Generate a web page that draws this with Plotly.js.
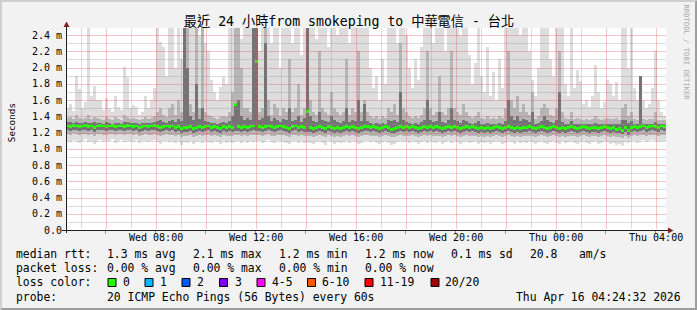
<!DOCTYPE html>
<html><head><meta charset="utf-8">
<script src="https://cdn.plot.ly/plotly-3.0.1.min.js"></script>
<style>html,body{margin:0;padding:0;background:#F2F2F2;overflow:hidden}#chart{width:697px;height:310px}</style>
</head><body><div id="chart"></div>
<script>
// ---- data (values in units of 0.01 ms), one value per 7.2-minute column, 24 h ----
const startTime = Date.UTC(2026, 3, 15, 4, 24, 32);   // Wed 04:24:32
const columnMs = 432000;                              // 7.2 min
const medianRtt = [
128,127,129,128,127,128,129,127,128,126,128,129,128,127,128,129,127,128,128,127,
129,128,127,128,126,127,128,127,128,129,127,126,127,128,127,128,126,127,125,126,
126,127,125,126,127,126,127,128,126,127,126,125,127,126,127,126,155,127,126,127,
126,127,128,207,127,126,127,128,127,126,127,128,127,126,125,127,128,126,127,126,
146,126,125,126,127,126,125,127,126,125,126,125,126,127,126,127,126,125,126,127,
127,126,127,126,125,126,127,126,124,125,126,127,126,127,126,127,126,125,126,127,
126,127,126,127,126,125,126,127,126,127,126,125,126,127,126,127,126,125,126,125,
126,125,126,127,126,125,126,127,126,125,126,125,126,126,127,126,125,126,127,126,
125,126,127,126,125,126,125,126,127,126,125,126,127,126,125,126,126,125,126,127,
126,125,126,124,125,123,126,122,126,127,126,127,128,126,127,128,127,126,128,127];
const pingMax = [
150,155,146,189,174,150,158,250,165,177,160,160,148,162,150,145,165,152,148,201,
188,150,154,152,142,145,165,150,160,175,250,232,225,190,250,250,200,250,210,250,
250,250,250,250,240,250,230,220,185,170,160,176,188,180,250,250,250,250,235,250,
250,250,250,250,220,250,250,250,230,250,250,200,250,250,250,230,250,250,215,250,
250,250,250,235,250,250,250,225,250,250,240,250,250,250,230,250,250,250,250,250,
250,200,175,190,160,210,180,250,250,250,230,250,250,240,200,175,210,185,225,250,
250,250,230,250,250,250,220,250,250,250,250,240,250,250,215,180,205,250,190,170,
225,165,195,160,210,175,250,250,250,250,250,240,250,250,220,185,165,200,250,250,
250,210,190,250,250,250,180,165,250,175,197,183,155,160,152,165,203,170,150,158,
185,180,165,182,160,250,250,200,250,175,160,190,160,150,155,175,220,160,145,140];
const pingUpperMid = [
138,139,137,142,138,137,138,141,137,139,138,137,136,139,137,136,139,137,136,142,
139,137,138,137,136,137,139,137,138,140,145,150,142,139,150,155,142,160,145,250,
250,155,145,250,150,250,145,142,140,138,137,139,140,139,145,170,250,250,200,150,
150,145,250,250,145,150,250,160,142,155,150,140,150,145,210,145,150,180,142,150,
250,160,145,142,220,150,145,142,170,150,145,142,145,210,142,150,145,220,145,160,
145,140,138,140,137,140,138,150,145,155,142,230,150,145,140,138,140,138,142,150,
220,150,142,145,190,145,142,150,220,150,145,142,155,145,140,138,140,145,138,137,
140,137,138,137,140,138,150,220,160,150,165,145,155,145,142,170,137,140,150,155,
150,142,140,150,220,145,138,137,145,137,138,137,136,137,136,137,140,137,136,137,
138,137,137,138,136,150,155,140,145,137,136,190,137,136,137,137,145,136,135,135];
const pingUpperCore = [
133,133,132,133,132,132,133,132,132,133,132,132,131,133,132,131,132,132,131,133,
133,132,132,132,131,132,132,132,132,133,134,135,133,132,134,136,133,137,134,250,
200,140,136,180,137,150,134,133,132,132,131,132,133,132,134,140,155,160,140,135,
138,136,250,250,136,138,230,140,134,138,135,133,137,135,150,134,135,140,133,138,
250,140,134,133,145,135,134,133,140,135,133,132,134,150,133,135,134,160,134,155,
134,132,131,132,131,132,131,135,134,136,133,170,135,133,132,131,132,131,133,135,
160,135,133,134,145,133,132,135,150,135,134,132,136,134,132,131,132,134,131,131,
132,131,131,130,132,131,134,160,140,136,140,134,137,135,133,145,131,132,134,140,
136,133,132,135,170,133,131,131,134,130,131,131,130,131,130,131,132,131,130,131,
131,131,130,131,130,135,136,132,134,131,130,190,131,130,131,131,133,130,130,131];
const pingLowerCore = [
123,122,123,123,122,123,123,122,123,121,123,123,123,122,123,123,122,123,123,122,
123,123,122,123,121,122,123,122,123,123,122,121,122,123,122,123,121,122,120,121,
121,122,120,121,122,121,122,123,121,122,121,120,122,121,122,121,122,122,121,122,
121,122,123,122,122,121,122,123,122,121,122,123,122,121,120,122,123,121,122,121,
121,121,120,121,122,121,120,122,121,120,121,120,121,122,121,122,121,120,121,122,
122,121,122,121,120,121,122,121,119,120,121,122,121,122,121,122,121,120,121,122,
121,122,121,122,121,120,121,122,121,122,121,120,121,122,121,122,121,120,121,120,
121,120,121,122,121,120,121,122,121,120,121,120,121,121,122,121,120,121,122,121,
120,121,122,121,120,121,120,121,122,121,120,121,122,121,120,121,121,120,121,122,
121,120,121,119,120,118,121,117,121,122,121,122,123,121,122,123,122,121,123,122];
const pingLowerMid = [
118,117,119,118,117,118,118,117,118,116,118,118,117,117,118,118,117,118,118,117,
118,118,117,118,116,117,118,117,117,118,117,116,117,118,117,117,116,117,115,116,
116,117,115,116,117,116,117,117,116,117,116,115,117,116,116,116,117,117,116,117,
116,117,117,117,117,116,117,118,116,116,117,117,117,116,115,117,117,116,117,116,
116,116,115,116,117,116,115,117,116,115,116,115,116,117,116,117,116,115,116,117,
117,116,116,116,115,116,117,116,114,115,116,117,116,116,116,117,116,115,116,117,
116,117,116,116,116,115,116,117,116,117,116,115,116,117,116,116,116,115,116,115,
116,115,116,117,116,115,116,117,116,115,116,115,116,116,116,116,115,116,117,116,
115,116,117,116,115,116,115,116,116,116,115,116,117,116,115,116,116,115,116,117,
116,115,116,114,115,113,116,113,116,117,116,117,117,116,117,117,117,116,117,117];
const pingMin = [
110,108,111,109,107,110,112,108,109,106,110,111,108,109,110,112,107,110,111,108,
110,109,108,111,107,109,110,108,109,111,108,106,109,110,108,109,107,110,105,108,
107,109,106,108,110,107,109,108,107,110,108,106,109,107,108,107,110,109,107,109,
107,109,108,110,109,107,109,111,108,107,109,110,108,107,106,109,110,107,109,107,
108,107,106,108,109,107,105,109,108,106,108,107,108,110,107,109,108,106,107,109,
110,108,109,107,106,108,110,107,105,106,108,110,108,109,107,110,108,106,108,109,
107,109,108,107,109,106,108,110,107,109,108,106,108,110,107,108,109,106,108,107,
108,106,108,110,108,106,107,110,108,106,109,107,108,107,109,108,106,108,110,107,
106,108,110,107,106,109,107,108,109,107,106,108,110,107,106,108,109,106,107,110,
108,106,107,105,106,104,108,107,109,110,107,109,111,108,110,111,109,108,110,109];

const yTickVals = [0,0.2,0.4,0.6,0.8,1.0,1.2,1.4,1.6,1.8,2.0,2.2,2.4];
const yTickText = ['0.0','0.2 m','0.4 m','0.6 m','0.8 m','1.0 m','1.2 m','1.4 m','1.6 m','1.8 m','2.0 m','2.2 m','2.4 m'];
const xTickVals = ['2026-04-15 06:00','2026-04-15 08:00','2026-04-15 10:00','2026-04-15 12:00','2026-04-15 14:00','2026-04-15 16:00',
                   '2026-04-15 18:00','2026-04-15 20:00','2026-04-15 22:00','2026-04-16 00:00','2026-04-16 02:00','2026-04-16 04:00'];
const xTickText = ['','Wed 08:00','','Wed 12:00','','Wed 16:00','','Wed 20:00','','Thu 00:00','','Thu 04:00'];

const titleText = '最近 24 小時from smokeping to 中華電信 - 台北';
const rttStats = ['1.3 ms avg','2.1 ms max','1.2 ms min','1.2 ms now','0.1 ms sd','20.8','am/s'];
const lossStats = ['0.00 % avg','0.00 % max','0.00 % min','0.00 % now'];
const lossLabels = ['0','1','2','3','4-5','6-10','11-19','20/20'];
const lossColors = ['#26ff00','#00b8ff','#0059ff','#7e00ff','#ff00ff','#ff5500','#ff0000','#a10000'];
const probeText = '20 ICMP Echo Pings (56 Bytes) every 60s';
const stampText = 'Thu Apr 16 04:24:32 2026';

// ---- build ----
const MONO = '"DejaVu Sans Mono", "Noto Sans CJK TC", monospace';
const xs = medianRtt.map((_, i) => startTime + (i + 0.5) * columnMs);
const u = v => v / 100;

function band(lower, upper, color) {
  return {type:'bar', x: xs, base: lower.map(u), y: upper.map((v, i) => u(v - lower[i])),
          width: columnMs, marker:{color: color, line:{width:0}}, hoverinfo:'skip'};
}
const MED_T = 0.036;
const traces = [
  band(pingMin, pingMax, '#DDDDDD'),
  band(pingLowerMid, pingUpperMid, '#B5B5B5'),
  band(pingLowerCore, pingUpperCore, '#747474'),
  {type:'bar', x: xs, base: medianRtt.map(v => u(v) - MED_T / 2), y: medianRtt.map(() => MED_T),
   width: columnMs, marker:{color: lossColors[0], line:{width:0}}, hoverinfo:'skip'}
];

// pixel -> paper helpers (plot area: x 66..666, y 28..230)
const PXMS = 81.25;
const px = v => (v - 66) / 600;
const py = v => (230 - v) / 202;
const valRow = v => Math.round(230 - v * PXMS) + 0.5;
const timeCol = t => Math.round(66 + (t - startTime) / 144000) + 0.5;

const shapes = [];
// frame bevel
shapes.push({type:'path', xref:'paper', yref:'paper', layer:'above', line:{width:0}, fillcolor:'#CFCFCF',
  path:`M${px(0)},${py(0)} L${px(697)},${py(0)} L${px(695)},${py(2)} L${px(2)},${py(2)} L${px(2)},${py(308)} L${px(0)},${py(310)} Z`});
shapes.push({type:'path', xref:'paper', yref:'paper', layer:'above', line:{width:0}, fillcolor:'#9E9E9E',
  path:`M${px(697)},${py(0)} L${px(697)},${py(310)} L${px(0)},${py(310)} L${px(2)},${py(308)} L${px(695)},${py(308)} L${px(695)},${py(2)} Z`});
// grid (pixel-aligned; faint solid lines standing in for rrdtool's 1:1 dotted grid)
const MGRID = 'rgba(222,79,79,0.32)', GRID = 'rgba(143,143,143,0.3)';
function hline(v, c) {
  const y = py(valRow(v));
  shapes.push({type:'line', xref:'paper', yref:'paper', x0:px(67), x1:1, y0:y, y1:y, layer:'above', line:{color:c, width:1}});
}
function vline(t, c) {
  const x = px(timeCol(t));
  shapes.push({type:'line', xref:'paper', yref:'paper', x0:x, x1:x, y0:py(229), y1:1, layer:'above', line:{color:c, width:1}});
}
for (let i = 0; i < 12; i++) hline(0.1 + 0.2 * i, GRID);
yTickVals.slice(1).forEach(v => hline(v, MGRID));
for (let i = 0; i < 12; i++) vline(Date.UTC(2026, 3, 15, 5) + i * 7200000, GRID);
xTickVals.forEach(s => vline(Date.parse(s.replace(' ', 'T') + ':00Z'), MGRID));
// axes + arrows
const AXIS = '#1F1F1F', ARROW = '#801F1F';
shapes.push({type:'line', xref:'paper', yref:'paper', x0:px(62), x1:px(669), y0:py(230.5), y1:py(230.5), layer:'above', line:{color:AXIS, width:1}});
shapes.push({type:'line', xref:'paper', yref:'paper', x0:px(66.5), x1:px(66.5), y0:py(233), y1:py(25), layer:'above', line:{color:AXIS, width:1}});
shapes.push({type:'path', xref:'paper', yref:'paper', layer:'above', line:{width:0}, fillcolor:ARROW,
  path:`M${px(668)},${py(227.5)} L${px(673.5)},${py(230.5)} L${px(668)},${py(233.5)} Z`});
shapes.push({type:'path', xref:'paper', yref:'paper', layer:'above', line:{width:0}, fillcolor:ARROW,
  path:`M${px(63.5)},${py(27)} L${px(66.5)},${py(21.5)} L${px(69.5)},${py(27)} Z`});

// legend boxes
const boxX = [108,145,182,219.5,257,307.5,365,431];
const boxLabelX = [123,160,197,234.5,272,322,380,445];
lossColors.forEach((c, i) =>
  shapes.push({type:'rect', xref:'paper', yref:'paper', x0:px(boxX[i]), x1:px(boxX[i] + 8), y0:py(278.5), y1:py(286.5),
               fillcolor:c, line:{color:'#000', width:1}, layer:'above'}));

const annotations = [];
function txt(s, x, y, o) {
  annotations.push(Object.assign({text:s, xref:'paper', yref:'paper', x:px(x), y:py(y), xanchor:'left', yanchor:'middle',
    showarrow:false, borderpad:0, borderwidth:0, font:{family:MONO, size:11.4, color:'#000'}}, o || {}));
}
// x-axis labels
xTickVals.forEach((t, i) => {
  if (xTickText[i]) annotations.push({text:xTickText[i], xref:'x', yref:'paper', x:t, y:py(237.6), xanchor:'center', yanchor:'middle',
    showarrow:false, borderpad:0, borderwidth:0, font:{family:MONO, size:10, color:'#000'}});
});
const L1 = 253.8, L2 = 268, L3 = 282.3, L4 = 296.6;
txt('median rtt:', 16, L1);
const rttX = [107,192.5,279,365,451,530,579];
rttStats.forEach((s, i) => txt(s, rttX[i], L1));
txt('packet loss:', 16, L2);
const lossX = [107,193,279,365];
lossStats.forEach((s, i) => txt(s, lossX[i], L2));
txt('loss color:', 16, L3);
lossLabels.forEach((s, i) => txt(s, boxLabelX[i], L3));
txt('probe:', 16, L4);
txt(probeText, 107, L4);
txt(stampText, 681, L4, {xanchor:'right'});
txt('Seconds', 11.7, 122.5, {xanchor:'center', textangle:-90, font:{family:MONO, size:9.3, color:'#000'}});
txt('RRDTOOL / TOBI OETIKER', 686, 52.5, {xanchor:'center', textangle:90, font:{family:MONO, size:7.2, color:'#A8A8A8'}});

const layout = {
  width:697, height:310,
  margin:{l:66, r:31, t:28, b:80, pad:0},
  paper_bgcolor:'#F2F2F2', plot_bgcolor:'#FFFFFF',
  barmode:'overlay', bargap:0, showlegend:false,
  title:{text:titleText, xref:'container', yref:'container', x:349/697, xanchor:'center', y:1 - 21/310, yanchor:'middle',
         font:{family:MONO, size:13.2, color:'#000'}},
  xaxis:{type:'date', range:['2026-04-15 04:24:32','2026-04-16 04:24:32'], tickmode:'array', tickvals:xTickVals, ticktext:xTickText,
         ticks:'outside', ticklen:3, tickcolor:'rgba(222,79,79,0.8)', tickwidth:1, showticklabels:false,
         showgrid:false, zeroline:false, showline:false, fixedrange:true},
  yaxis:{range:[0, 202 / PXMS], tickmode:'array', tickvals:yTickVals, ticktext:yTickText, ticks:'', ticklabelstandoff:3,
         tickfont:{family:MONO, size:10, color:'#000'}, showgrid:false, zeroline:false, showline:false, fixedrange:true},
  shapes: shapes, annotations: annotations
};
Plotly.newPlot('chart', traces, layout, {staticPlot:true, displayModeBar:false});
</script></body></html>
